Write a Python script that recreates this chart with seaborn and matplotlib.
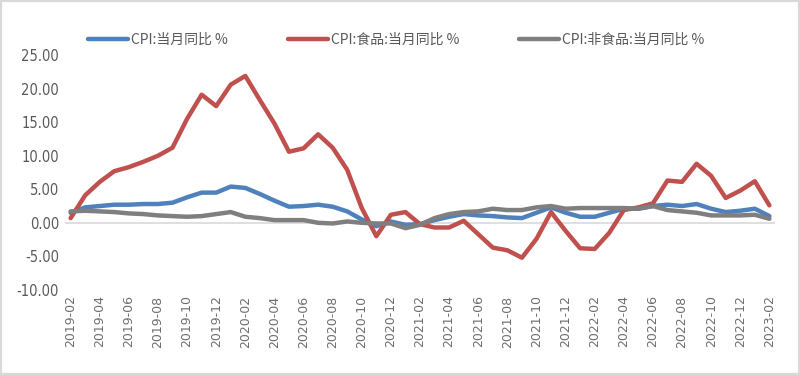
import pandas as pd
import numpy as np
import matplotlib
matplotlib.use("Agg")
import matplotlib.pyplot as plt
import seaborn as sns
from matplotlib.patches import Rectangle

# 月份 2019-02 至 2023-02
months = pd.period_range("2019-02", "2023-02", freq="M").strftime("%Y-%m").tolist()

cpi_total = [1.5, 2.3, 2.5, 2.7, 2.7, 2.8, 2.8, 3.0, 3.8, 4.5, 4.5,
             5.4, 5.2, 4.3, 3.3, 2.4, 2.5, 2.7, 2.4, 1.7, 0.5, -0.5, 0.2,
             -0.3, -0.2, 0.4, 0.9, 1.3, 1.1, 1.0, 0.8, 0.7, 1.5, 2.3, 1.5,
             0.9, 0.9, 1.5, 2.1, 2.1, 2.5, 2.7, 2.5, 2.8, 2.1, 1.6, 1.8,
             2.1, 1.0]
cpi_food = [0.7, 4.1, 6.1, 7.7, 8.3, 9.1, 10.0, 11.2, 15.5, 19.1, 17.4,
            20.6, 21.9, 18.3, 14.8, 10.6, 11.1, 13.2, 11.2, 7.9, 2.2, -2.0, 1.2,
            1.6, -0.2, -0.7, -0.7, 0.3, -1.7, -3.7, -4.1, -5.2, -2.4, 1.6, -1.2,
            -3.8, -3.9, -1.5, 1.9, 2.3, 2.9, 6.3, 6.1, 8.8, 7.0, 3.7, 4.8,
            6.2, 2.6]
cpi_nonfood = [1.7, 1.8, 1.7, 1.6, 1.4, 1.3, 1.1, 1.0, 0.9, 1.0, 1.3,
               1.6, 0.9, 0.7, 0.4, 0.4, 0.4, 0.0, -0.1, 0.2, 0.0, -0.1, -0.1,
               -0.8, -0.3, 0.7, 1.3, 1.6, 1.7, 2.1, 1.9, 1.9, 2.3, 2.5, 2.1,
               2.2, 2.2, 2.2, 2.2, 2.1, 2.5, 1.9, 1.7, 1.5, 1.1, 1.1, 1.1,
               1.2, 0.6]

series_names = ["CPI:当月同比 %", "CPI:食品:当月同比 %", "CPI:非食品:当月同比 %"]
colors = ["#4F81BD", "#C0504D", "#7F7F7F"]

df = pd.DataFrame({"idx": np.arange(len(months)),
                   series_names[0]: cpi_total,
                   series_names[1]: cpi_food,
                   series_names[2]: cpi_nonfood})
df_long = df.melt(id_vars="idx", var_name="系列", value_name="值")

sns.set_theme(style="white")
plt.rcParams["font.family"] = ["Noto Sans CJK SC", "DejaVu Sans"]

fig = plt.figure(figsize=(8, 3.75), dpi=100)
ax = fig.add_axes([0.081, 0.227, 0.888, 0.626])

sns.lineplot(data=df_long, x="idx", y="值", hue="系列", palette=colors,
             linewidth=3.2, ax=ax, legend=False)

# 零线
ax.axhline(0, color="#D9D9D9", linewidth=1.2, zorder=0)

ax.set_ylim(-10, 25)
yt = np.arange(-10, 26, 5)
ax.set_yticks(yt)
ax.set_yticklabels([f"{v:.2f}" for v in yt], family="DejaVu Sans",
                   fontstretch="condensed", fontsize=10.5, color="#595959")
ax.set_xlim(-0.4, len(months) - 0.6)
ax.set_xticks(df["idx"][::2])
ax.set_xticklabels(months[::2], rotation=90, family="DejaVu Sans", fontsize=9, color="#6E6E6E")
ax.tick_params(axis="both", length=0, pad=4)
ax.set_xlabel("")
ax.set_ylabel("")
for s in ax.spines.values():
    s.set_visible(False)

handles = [plt.Line2D([], [], color=c, linewidth=3.2) for c in colors]
fig.legend(handles, series_names, loc="center", bbox_to_anchor=(0.495, 0.893), ncol=3,
           frameon=False, fontsize=10, handlelength=2.9, handletextpad=0.2,
           columnspacing=4.3, labelcolor="#595959")

# 外框
fig.patches.append(Rectangle((0, 0), 1, 1, transform=fig.transFigure, fill=False,
                             edgecolor="#D9D9D9", linewidth=3))

fig.savefig("out.png", dpi=100)
